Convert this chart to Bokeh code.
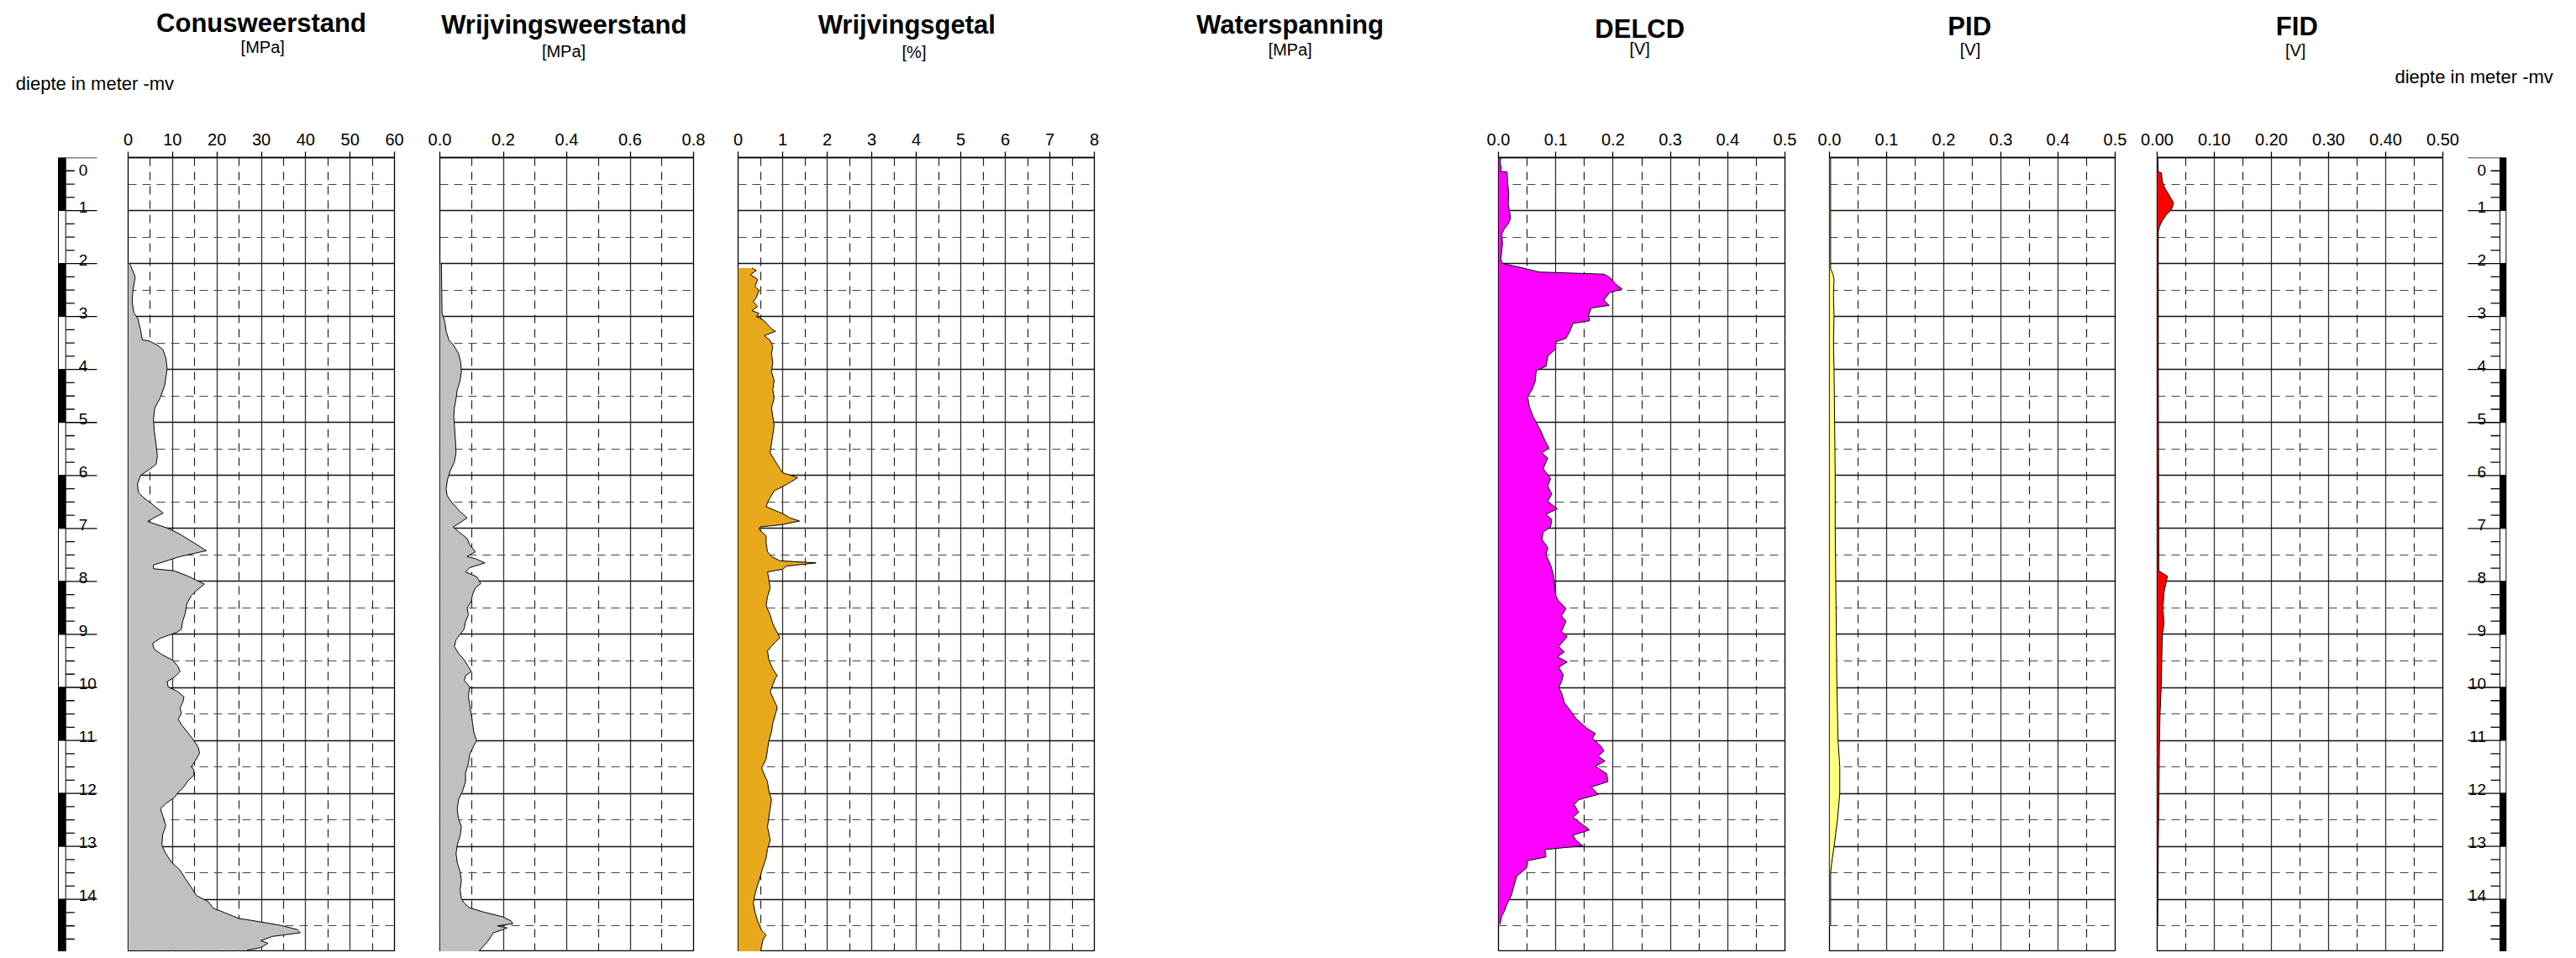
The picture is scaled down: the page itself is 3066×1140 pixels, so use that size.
from bokeh.plotting import figure
from bokeh.models import Range1d, LinearAxis, FixedTicker, Grid, PrintfTickFormatter, ColumnDataSource
from bokeh.layouts import row, column
from bokeh.embed import file_html
from bokeh.resources import INLINE
from bokeh.core.properties import value

FONT = "Liberation Sans"

# ---------------- data (depth in m below surface) ----------------
conus_depth = [2.00, 2.05, 2.25, 2.50, 2.72, 2.93, 3.04, 3.25, 3.44, 3.46, 3.54, 3.62, 3.78, 3.99, 4.31,
               4.52, 4.73, 4.94, 5.16, 5.42, 5.63, 5.79, 5.89, 6.00, 6.16, 6.32, 6.42, 6.58, 6.71, 6.79,
               6.87, 6.95, 7.00, 7.11, 7.27, 7.42, 7.53, 7.69, 7.76, 7.80, 7.90, 7.98, 8.05, 8.17, 8.27,
               8.43, 8.59, 8.75, 8.90, 8.96, 9.07, 9.17, 9.28, 9.38, 9.49, 9.60, 9.70, 9.81, 9.89, 9.99,
               10.07, 10.18, 10.28, 10.39, 10.49, 10.60, 10.70, 10.86, 11.00, 11.13, 11.24, 11.39, 11.50,
               11.55, 11.66, 11.76, 11.87, 11.98, 12.08, 12.19, 12.29, 12.45, 12.61, 12.77, 12.98, 13.14,
               13.30, 13.45, 13.61, 13.77, 13.93, 14.04, 14.17, 14.25, 14.36, 14.41, 14.49, 14.57, 14.63,
               14.70, 14.78, 14.83, 14.91, 14.96]
conus_qc = [0.3, 0.6, 1.6, 1.1, 0.9, 1.3, 2.2, 2.8, 3.2, 4.7, 6.6, 7.8, 8.5, 8.8, 8.2,
            7.3, 6.0, 5.7, 5.9, 6.3, 6.6, 6.3, 4.7, 2.8, 2.1, 2.3, 3.5, 6.0, 7.9, 6.0,
            4.4, 7.3, 9.1, 11.7, 14.8, 17.6, 11.7, 5.7, 5.7, 10.4, 13.5, 15.4, 17.2, 15.4, 14.2,
            13.2, 12.9, 12.3, 12.0, 11.0, 7.3, 5.5, 5.9, 7.6, 10.1, 11.2, 11.7, 10.4, 8.8, 9.0,
            11.0, 12.6, 12.3, 11.7, 12.0, 11.3, 12.0, 13.5, 14.8, 15.8, 16.1, 15.1, 14.2,
            14.8, 14.8, 13.5, 12.6, 11.3, 10.4, 8.5, 7.3, 7.9, 8.5, 7.8, 7.6, 8.5,
            9.8, 11.7, 12.9, 14.2, 15.4, 18.0, 19.2, 21.7, 24.9, 28.7, 34.3, 38.1, 38.8,
            32.5, 29.9, 31.5, 29.9, 26.8]

wrw_depth = [2.00, 2.50, 2.94, 3.11, 3.28, 3.45, 3.53, 3.70, 3.87, 4.04, 4.21, 4.38, 4.55, 4.72, 4.89,
             5.06, 5.32, 5.57, 5.74, 5.91, 6.08, 6.25, 6.38, 6.51, 6.68, 6.80, 6.89, 6.97, 7.06, 7.19,
             7.31, 7.44, 7.53, 7.57, 7.65, 7.74, 7.82, 7.91, 8.04, 8.12, 8.25, 8.38, 8.50, 8.63, 8.76,
             8.89, 8.97, 9.10, 9.23, 9.36, 9.48, 9.61, 9.70, 9.78, 9.87, 9.99, 10.16, 10.33, 10.50,
             10.67, 10.84, 11.01, 11.10, 11.27, 11.44, 11.61, 11.78, 11.95, 12.12, 12.29, 12.46, 12.63,
             12.80, 12.97, 13.14, 13.31, 13.48, 13.65, 13.82, 13.99, 14.07, 14.16, 14.24, 14.33, 14.41,
             14.46, 14.50, 14.54, 14.59, 14.63, 14.80, 15.00]
wrw_fs = [0.005, 0.006, 0.007, 0.016, 0.020, 0.029, 0.042, 0.059, 0.066, 0.068, 0.064, 0.055, 0.051, 0.046, 0.044,
          0.046, 0.049, 0.051, 0.046, 0.033, 0.024, 0.020, 0.023, 0.038, 0.064, 0.086, 0.064, 0.042, 0.059, 0.086,
          0.094, 0.112, 0.086, 0.112, 0.142, 0.094, 0.081, 0.116, 0.129, 0.112, 0.103, 0.099, 0.086, 0.090, 0.081,
          0.077, 0.068, 0.051, 0.046, 0.059, 0.077, 0.090, 0.099, 0.081, 0.077, 0.094, 0.090, 0.094, 0.099,
          0.103, 0.107, 0.116, 0.107, 0.094, 0.090, 0.081, 0.081, 0.072, 0.059, 0.055, 0.058, 0.068,
          0.064, 0.055, 0.051, 0.055, 0.064, 0.068, 0.064, 0.068, 0.077, 0.094, 0.138, 0.199, 0.225,
          0.230, 0.182, 0.212, 0.190, 0.169, 0.150, 0.120]

wg_depth = [2.085, 2.13, 2.21, 2.30, 2.43, 2.51, 2.64, 2.72, 2.81, 2.89, 2.94, 3.00, 3.06, 3.15, 3.23, 3.28,
            3.36, 3.45, 3.57, 3.70, 3.87, 4.04, 4.21, 4.38, 4.55, 4.72, 4.89, 5.06, 5.23, 5.40, 5.57, 5.74,
            5.87, 5.95, 6.04, 6.12, 6.21, 6.29, 6.42, 6.51, 6.59, 6.72, 6.80, 6.86, 6.93, 6.97, 7.02, 7.14,
            7.27, 7.44, 7.53, 7.61, 7.65, 7.71, 7.77, 7.82, 7.95, 8.12, 8.29, 8.46, 8.63, 8.80, 8.97, 9.06,
            9.14, 9.31, 9.48, 9.65, 9.78, 9.82, 9.95, 10.08, 10.25, 10.38, 10.50, 10.67, 10.84, 11.01, 11.18,
            11.35, 11.52, 11.65, 11.78, 11.95, 12.12, 12.29, 12.46, 12.63, 12.88, 13.05, 13.22, 13.39, 13.56,
            13.73, 13.90, 14.07, 14.24, 14.41, 14.59, 14.67, 14.76, 15.00]
wg_rf = [0.31, 0.41, 0.28, 0.44, 0.38, 0.47, 0.41, 0.34, 0.44, 0.31, 0.47, 0.41, 0.56, 0.66, 0.75, 0.84,
         0.59, 0.72, 0.78, 0.75, 0.78, 0.75, 0.81, 0.78, 0.81, 0.75, 0.78, 0.81, 0.78, 0.75, 0.72, 0.84,
         0.94, 1.00, 1.34, 1.19, 1.00, 0.81, 0.72, 0.66, 0.63, 1.00, 1.16, 1.38, 0.97, 0.50, 0.47, 0.63,
         0.63, 0.66, 0.75, 0.94, 1.75, 1.09, 1.00, 0.66, 0.69, 0.72, 0.66, 0.63, 0.72, 0.78, 0.88, 0.94,
         0.84, 0.66, 0.69, 0.78, 0.88, 0.84, 0.78, 0.72, 0.81, 0.88, 0.84, 0.78, 0.75, 0.69, 0.66,
         0.63, 0.53, 0.59, 0.66, 0.69, 0.75, 0.72, 0.69, 0.66, 0.72, 0.66, 0.63, 0.56, 0.50,
         0.44, 0.38, 0.34, 0.38, 0.44, 0.53, 0.63, 0.56, 0.50]

delcd_depth = [0.00, 0.10, 0.20, 0.26, 0.27, 0.48, 0.67, 0.87, 1.06, 1.15, 1.25, 1.35, 1.44, 1.63, 1.83, 1.92,
               2.00, 2.07, 2.16, 2.20, 2.26, 2.40, 2.48, 2.55, 2.69, 2.79, 2.84, 2.98, 3.08, 3.13, 3.27, 3.41,
               3.48, 3.61, 3.75, 3.94, 4.02, 4.23, 4.37, 4.52, 4.71, 4.90, 5.14, 5.34, 5.48, 5.58, 5.67, 5.87,
               6.06, 6.20, 6.35, 6.49, 6.63, 6.73, 6.83, 6.97, 7.07, 7.21, 7.36, 7.50, 7.69, 7.88, 8.08, 8.27,
               8.37, 8.51, 8.65, 8.75, 8.94, 9.04, 9.23, 9.33, 9.42, 9.52, 9.62, 9.76, 9.90, 10.00, 10.10,
               10.29, 10.43, 10.58, 10.77, 10.87, 10.96, 11.11, 11.20, 11.30, 11.39, 11.49, 11.63, 11.78,
               11.88, 12.02, 12.12, 12.21, 12.36, 12.45, 12.55, 12.69, 12.79, 12.88, 12.99, 13.06, 13.20,
               13.27, 13.41, 13.56, 13.75, 13.94, 14.09, 14.23, 14.33, 14.47]
delcd_v = [0.004, 0.003, 0.005, 0.003, 0.015, 0.016, 0.018, 0.017, 0.020, 0.021, 0.017, 0.010, 0.006, 0.007, 0.005, 0.004,
           0.007, 0.037, 0.071, 0.184, 0.194, 0.206, 0.216, 0.194, 0.184, 0.193, 0.162, 0.157, 0.159, 0.130, 0.125, 0.118,
           0.100, 0.100, 0.086, 0.083, 0.066, 0.064, 0.059, 0.051, 0.054, 0.061, 0.073, 0.081, 0.088, 0.076, 0.086, 0.078,
           0.091, 0.086, 0.093, 0.086, 0.103, 0.083, 0.093, 0.091, 0.078, 0.076, 0.086, 0.083, 0.091, 0.096, 0.098, 0.100,
           0.105, 0.118, 0.110, 0.118, 0.110, 0.120, 0.105, 0.115, 0.103, 0.120, 0.105, 0.113, 0.110, 0.105, 0.110,
           0.115, 0.125, 0.135, 0.154, 0.169, 0.164, 0.179, 0.184, 0.174, 0.186, 0.169, 0.189, 0.191,
           0.162, 0.174, 0.140, 0.132, 0.140, 0.130, 0.142, 0.159, 0.130, 0.135, 0.147, 0.081, 0.083,
           0.051, 0.049, 0.032, 0.027, 0.022, 0.015, 0.010, 0.005, 0.003]

pid_depth = [0.0, 1.0, 2.1, 2.2, 2.3, 2.6, 3.0, 3.5, 4.0, 5.0, 6.0, 7.0, 8.0, 9.0, 10.0, 11.0, 11.5, 12.0,
             12.5, 13.0, 13.3, 13.5, 14.5]
pid_v = [0.002, 0.002, 0.002, 0.006, 0.008, 0.007, 0.008, 0.007, 0.008, 0.009, 0.010, 0.010, 0.011, 0.012,
         0.013, 0.015, 0.018, 0.018, 0.014, 0.008, 0.004, 0.002, 0.002]

fid_depth = [0.00, 0.27, 0.29, 0.45, 0.56, 0.71, 0.85, 0.93, 1.00, 1.08, 1.19, 1.30, 1.40, 2.0, 4.0, 7.8,
             7.9, 8.0, 8.2, 8.5, 8.8, 9.0, 9.5, 10.0, 10.5, 11.0, 12.0, 13.0, 14.5]
fid_v = [0.001, 0.002, 0.0075, 0.009, 0.0127, 0.021, 0.0285, 0.027, 0.0235, 0.016, 0.009, 0.004, 0.002, 0.002,
         0.002, 0.003, 0.018, 0.016, 0.012, 0.010, 0.012, 0.009, 0.008, 0.007, 0.005, 0.004, 0.003, 0.002, 0.001]

depth_major = list(range(0, 16))
depth_minor = [k + 0.5 for k in range(15)]
depth_quarter = [k + q for k in range(15) for q in (0.25, 0.5, 0.75)]
depth_labels = [str(k) for k in range(15)]

# ---------------- layout constants ----------------
OFFX = 0          # page x of the canvas' left edge
OFFY = 8          # page y of the canvas' top edge
PX_PER_M = 63.05
TOP_H = 140 - OFFY
ROW_H = 1000
TOP = 55
FRAME_H = ROW_H - TOP
DEPTH_MAX = FRAME_H / PX_PER_M
TOTAL_W = 3066


def strip_grids(p):
    p.center = [r for r in p.center if not isinstance(r, Grid)]


def base_fig(width, bl, br, xr):
    p = figure(width=width, height=ROW_H, x_range=xr, y_range=Range1d(DEPTH_MAX, 0),
               x_axis_location=None, y_axis_location=None, toolbar_location=None, title=None,
               output_backend="svg", min_border_left=bl, min_border_right=br,
               min_border_top=TOP, min_border_bottom=0)
    strip_grids(p)
    p.outline_line_color = None
    return p


def panel(width, bl, br, xmax, major, minor, fmt, depth, vals, fill):
    p = base_fig(width, bl, br, Range1d(0, xmax))
    p.outline_line_color = "black"
    p.outline_line_width = 1.3
    ax = LinearAxis(ticker=FixedTicker(ticks=major), formatter=PrintfTickFormatter(format=fmt))
    ax.major_tick_out = 7
    ax.major_tick_in = 0
    ax.minor_tick_out = 0
    ax.minor_tick_in = 0
    ax.major_tick_line_color = "black"
    ax.major_tick_line_width = 1.3
    ax.axis_line_color = "black"
    ax.axis_line_width = 1.3
    ax.major_label_text_font = FONT
    ax.major_label_text_font_size = "20px"
    ax.major_label_text_color = "black"
    ax.major_label_standoff = 8
    p.add_layout(ax, "above")
    p.add_layout(Grid(dimension=0, ticker=FixedTicker(ticks=major, minor_ticks=minor),
                      grid_line_color="#333333", grid_line_width=1.3,
                      minor_grid_line_color="#222222", minor_grid_line_width=1.2,
                      minor_grid_line_dash="10 7"))
    p.add_layout(Grid(dimension=1, ticker=FixedTicker(ticks=depth_major, minor_ticks=depth_minor),
                      grid_line_color="#111111", grid_line_width=1.3,
                      minor_grid_line_color="#444444", minor_grid_line_width=1.2,
                      minor_grid_line_dash="10 7"))
    src = ColumnDataSource(dict(d=depth, v=vals))
    p.harea(x1=0, x2="v", y="d", source=src, fill_color=fill, fill_alpha=1)
    p.line(x="v", y="d", source=src, line_color="black", line_width=1)
    return p


def depth_scale(width, bl, br, x0, x1, bar_l, bar_r, tick_long, tick_short, lab_x, align):
    p = base_fig(width, bl, br, Range1d(x0, x1))
    segs = list(range(15))
    inner = bar_r if align == "left" else bar_l
    p.quad(left=bar_l, right=bar_r, top=segs, bottom=[k + 1 for k in segs],
           fill_color=["black" if k % 2 == 0 else "white" for k in segs],
           line_color="black", line_width=1)
    p.segment(x0=tick_long, x1=inner, y0=depth_major, y1=depth_major, line_color="black", line_width=1.3)
    qs = [d for d in depth_quarter if d % 1 != 0]
    p.segment(x0=tick_short, x1=inner, y0=qs, y1=qs, line_color="black", line_width=1.3)
    ys = [8 / PX_PER_M] + [k - 4.5 / PX_PER_M for k in range(1, 15)]
    bases = ["top"] + ["alphabetic"] * 14
    src = ColumnDataSource(dict(x=[lab_x] * 15, y=ys, t=depth_labels, b=bases))
    p.text(x="x", y="y", text="t", source=src, text_font=value(FONT), text_font_size="19px",
           text_align=align, text_baseline="b", text_color="black")
    return p


# figure boundaries in page x
bounds = [OFFX, 135, 496, 851, 1330, 2151, 2542, 2930, OFFX + TOTAL_W]
W = [bounds[i + 1] - bounds[i] for i in range(len(bounds) - 1)]

left = depth_scale(W[0], 60 - bounds[0], bounds[1] - 125, 60, 125, 69, 77.7, 115, 88.3, 93.3, "left")

conus = panel(W[1], 152 - bounds[1], bounds[2] - 469, 60, [0, 10, 20, 30, 40, 50, 60],
              [5, 15, 25, 35, 45, 55], "%d", conus_depth, conus_qc, "#C0C0C0")
wrw = panel(W[2], 523 - bounds[2], bounds[3] - 825, 0.8, [0.0, 0.2, 0.4, 0.6, 0.8],
            [0.1, 0.3, 0.5, 0.7], "%.1f", wrw_depth, wrw_fs, "#C0C0C0")
wg = panel(W[3], 878 - bounds[3], bounds[4] - 1302, 8, [0, 1, 2, 3, 4, 5, 6, 7, 8],
           [0.5, 1.5, 2.5, 3.5, 4.5, 5.5, 6.5, 7.5], "%d", wg_depth, wg_rf, "#E8A81C")
delcd = panel(W[4], 1783 - bounds[4], bounds[5] - 2124, 0.5, [0.0, 0.1, 0.2, 0.3, 0.4, 0.5],
              [0.05, 0.15, 0.25, 0.35, 0.45], "%.1f", delcd_depth, delcd_v, "#FF00FF")
pid = panel(W[5], 2177 - bounds[5], bounds[6] - 2517, 0.5, [0.0, 0.1, 0.2, 0.3, 0.4, 0.5],
            [0.05, 0.15, 0.25, 0.35, 0.45], "%.1f", pid_depth, pid_v, "#FFFF80")
fid = panel(W[6], 2567 - bounds[6], bounds[7] - 2907, 0.5, [0.0, 0.1, 0.2, 0.3, 0.4, 0.5],
            [0.05, 0.15, 0.25, 0.35, 0.45], "%.2f", fid_depth, fid_v, "#FF0000")

right = depth_scale(W[7], 2936 - bounds[7], bounds[8] - 2984, 2936, 2984, 2975, 2982.3, 2936.7, 2964,
                    2958.5, "right")

# ---------------- titles strip ----------------
top = figure(width=TOTAL_W, height=TOP_H, x_range=Range1d(OFFX, OFFX + TOTAL_W),
             y_range=Range1d(OFFY + TOP_H, OFFY), x_axis_location=None, y_axis_location=None,
             toolbar_location=None, title=None, output_backend="svg", min_border=0)
strip_grids(top)
top.outline_line_color = None

titles = ["Conusweerstand", "Wrijvingsweerstand", "Wrijvingsgetal", "Waterspanning", "DELCD", "PID", "FID"]
units = ["[MPa]", "[MPa]", "[%]", "[MPa]", "[V]", "[V]", "[V]"]
title_x = [310.5, 670.8, 1078.8, 1535, 1951.2, 2343.7, 2733.3]
title_y = [35, 36.5, 37, 37, 41.7, 39.3, 39.3]
unit_x = [312.2, 670.5, 1087.5, 1535, 1951.2, 2344.5, 2731.7]
unit_y = [63.3, 68.3, 69.5, 66.5, 65.8, 66.3, 67.5]

top.text(x=title_x, y=title_y, text=titles, text_font=value(FONT), text_font_size="31px",
         text_font_style="bold", text_align="center", text_baseline="alphabetic", text_color="black")
top.text(x=unit_x, y=unit_y, text=units, text_font=value(FONT), text_font_size="20px",
         text_align="center", text_baseline="middle", text_color="black")
top.text(x=[18.3, 2850], y=[107, 98.5], text=["diepte in meter -mv", "diepte in meter -mv"],
         text_font=value(FONT), text_font_size="22px", text_align="left", text_baseline="alphabetic",
         text_color="black")

layout = column(top, row(left, conus, wrw, wg, delcd, pid, fid, right, spacing=0), spacing=0)

open("out.html", "w").write(file_html(layout, INLINE))
